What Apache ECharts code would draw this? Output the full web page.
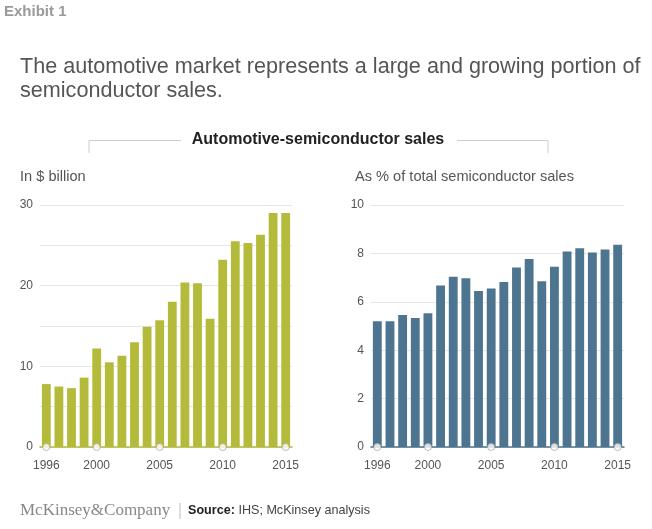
<!DOCTYPE html>
<html>
<head>
<meta charset="utf-8">
<script src="https://cdn.jsdelivr.net/npm/echarts@6/dist/echarts.min.js"></script>
<style>
  html, body { margin: 0; padding: 0; background: #fff; }
  #chart { width: 652px; height: 529px; }
</style>
</head>
<body>
<div id="chart"></div>
<script>
// 数据
const years = ['1996', '1997', '1998', '1999', '2000', '2001', '2002', '2003', '2004', '2005',
               '2006', '2007', '2008', '2009', '2010', '2011', '2012', '2013', '2014', '2015'];
const salesBillion = [7.8, 7.5, 7.3, 8.6, 12.2, 10.5, 11.3, 13.0, 14.9, 15.7,
                      18.0, 20.4, 20.3, 15.9, 23.2, 25.5, 25.3, 26.3, 29.0, 29.0];
const shareOfTotal = [5.2, 5.2, 5.45, 5.33, 5.53, 6.67, 7.04, 6.97, 6.45, 6.55,
                      6.82, 7.42, 7.77, 6.85, 7.45, 8.08, 8.21, 8.04, 8.16, 8.36];
const labelYears = ['1996', '2000', '2005', '2010', '2015'];

const FONT = '"Liberation Sans", Arial, Helvetica, sans-serif';
const OLIVE = '#b4ba3a';
const BLUE = '#4e7590';

const chart = echarts.init(document.getElementById('chart'), null, { renderer: 'canvas' });

const xAxisFor = (gridIndex, color) => ({
    type: 'category',
    gridIndex,
    data: years,
    axisLine: { lineStyle: { color, width: 1.5 } },
    axisTick: { show: false },
    axisLabel: {
        color: '#555',
        fontFamily: FONT,
        fontSize: 12,
        margin: 13,
        interval: (idx, val) => labelYears.includes(val)
    }
});

const yAxisFor = (gridIndex, max, interval, labelStep) => ({
    type: 'value',
    gridIndex,
    min: 0,
    max,
    interval,
    axisLine: { show: false },
    axisTick: { show: false },
    splitLine: { lineStyle: { color: '#e6e6e6', width: 1 } },
    axisLabel: {
        color: '#555',
        fontFamily: FONT,
        fontSize: 12,
        margin: 7,
        formatter: v => (v % labelStep === 0 ? String(v) : '')
    }
});

const dotSeries = (idx) => ({
    type: 'scatter',
    xAxisIndex: idx,
    yAxisIndex: idx,
    data: labelYears.map(y => [y, 0]),
    symbolSize: 7,
    clip: false,
    z: 5,
    silent: true,
    itemStyle: { color: '#fff', borderColor: '#aaa', borderWidth: 1 }
});

const text = (x, y, str, style) => ({
    type: 'text', x, y,
    style: Object.assign({ text: str, fontFamily: FONT, verticalAlign: 'middle' }, style)
});

const option = {
    animation: false,
    grid: [
        { left: 40, right: 360, top: 205, bottom: 82 },
        { left: 371, right: 28, top: 205, bottom: 82 }
    ],
    xAxis: [xAxisFor(0, OLIVE), xAxisFor(1, BLUE)],
    yAxis: [yAxisFor(0, 30, 5, 10), yAxisFor(1, 10, 2, 2)],
    series: [
        {
            type: 'bar', xAxisIndex: 0, yAxisIndex: 0,
            data: salesBillion, barWidth: '70%',
            itemStyle: { color: OLIVE }
        },
        {
            type: 'bar', xAxisIndex: 1, yAxisIndex: 1,
            data: shareOfTotal, barWidth: '70%',
            itemStyle: { color: BLUE }
        },
        dotSeries(0),
        dotSeries(1)
    ],
    graphic: [
        text(4, 12, 'Exhibit 1', { fontSize: 15, fontWeight: 'bold', fill: '#9a9a9a' }),
        text(20, 67, 'The automotive market represents a large and growing portion of', { fontSize: 21.6, fill: '#555' }),
        text(20, 91, 'semiconductor sales.', { fontSize: 21.6, fill: '#555' }),
        text(318, 140, 'Automotive-semiconductor sales', { fontSize: 16, fontWeight: 'bold', fill: '#222', align: 'center' }),
        // 括号线
        { type: 'polyline', shape: { points: [[89, 153], [89, 140.5], [181, 140.5]] }, style: { stroke: '#ccc', lineWidth: 1, fill: null } },
        { type: 'polyline', shape: { points: [[457, 140.5], [548, 140.5], [548, 153]] }, style: { stroke: '#ccc', lineWidth: 1, fill: null } },
        text(20, 177, 'In $ billion', { fontSize: 14.6, fill: '#555' }),
        text(355, 177, 'As % of total semiconductor sales', { fontSize: 14.6, fill: '#555' }),
        text(20, 511, 'McKinsey&Company', { fontSize: 17, fill: '#888', fontFamily: '"Liberation Serif", "Times New Roman", serif' }),
        { type: 'line', shape: { x1: 180, y1: 503, x2: 180, y2: 519 }, style: { stroke: '#bbb', lineWidth: 1 } },
        {
            type: 'text', x: 188, y: 511,
            style: {
                text: '{b|Source:} IHS; McKinsey analysis',
                fontFamily: FONT, fontSize: 12.6, fill: '#444', verticalAlign: 'middle',
                rich: { b: { fontWeight: 'bold', fontFamily: FONT, fontSize: 12.6, fill: '#222' } }
            }
        }
    ]
};

chart.setOption(option);
</script>
</body>
</html>
